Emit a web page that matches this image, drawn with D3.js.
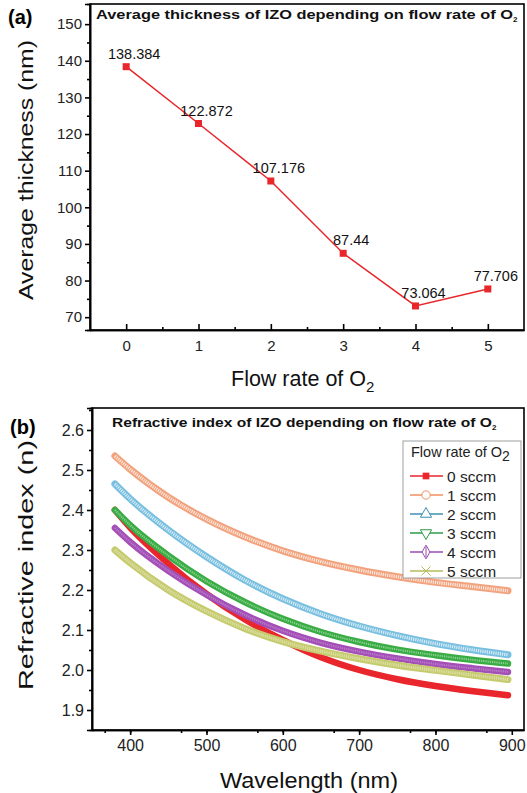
<!DOCTYPE html>
<html><head><meta charset="utf-8">
<script src="https://cdn.jsdelivr.net/npm/d3@7"></script>
<style>
body{margin:0;background:#fff;}
svg{display:block;font-family:"Liberation Sans",Arial,sans-serif;}
</style></head>
<body>
<svg id="chart" width="527" height="793"></svg>
<script>
// ---------- Data: panel (a) ----------
const flowRates = [0, 1, 2, 3, 4, 5];
const thickness = [138.384, 122.872, 107.176, 87.44, 73.064, 77.706];
const thicknessLabels = ["138.384", "122.872", "107.176", "87.44", "73.064", "77.706"];
const aYTicks = [70, 80, 90, 100, 110, 120, 130, 140, 150];
const aXTicks = [0, 1, 2, 3, 4, 5];

// ---------- Data: panel (b) ----------
const wavelengths = [380, 400, 450, 500, 550, 600, 650, 700, 750, 800, 850, 895];
const n0sccm = [2.400, 2.356, 2.266, 2.190, 2.127, 2.075, 2.032, 2.000, 1.977, 1.960, 1.947, 1.937];
const n1sccm = [2.535, 2.502, 2.432, 2.377, 2.333, 2.298, 2.271, 2.250, 2.233, 2.219, 2.208, 2.198];
const n2sccm = [2.465, 2.428, 2.350, 2.283, 2.225, 2.178, 2.140, 2.110, 2.086, 2.066, 2.050, 2.038];
const n3sccm = [2.400, 2.362, 2.286, 2.222, 2.170, 2.128, 2.095, 2.070, 2.051, 2.037, 2.025, 2.016];
const n4sccm = [2.355, 2.320, 2.248, 2.188, 2.138, 2.098, 2.068, 2.046, 2.029, 2.015, 2.004, 1.995];
const n5sccm = [2.300, 2.268, 2.200, 2.147, 2.104, 2.071, 2.047, 2.028, 2.012, 1.999, 1.987, 1.976];
const seriesNames = ["0 sccm", "1 sccm", "2 sccm", "3 sccm", "4 sccm", "5 sccm"];
const bYTicks = [1.9, 2.0, 2.1, 2.2, 2.3, 2.4, 2.5, 2.6];
const bXTicks = [400, 500, 600, 700, 800, 900];

const FONT = '"Liberation Sans",Arial,sans-serif';
const svg = d3.select("#chart");

// ================= Panel (a) =================
const aL = 90, aR = 524, aT = 4, aB = 330;
const ax = d3.scaleLinear().domain([-0.5, 5.5]).range([aL, aR]);
const ay = d3.scaleLinear().domain([66.5, 155.5]).range([aB, aT]);

const gA = svg.append("g");
gA.append("rect").attr("x", aL).attr("y", aT).attr("width", aR - aL).attr("height", aB - aT)
  .attr("fill", "none").attr("stroke", "#000").attr("stroke-width", 1.6);

const ayAxis = d3.axisLeft(ay).tickValues(aYTicks).tickSize(5).tickPadding(3).tickFormat(d3.format("d"));
gA.append("g").attr("class", "ta").attr("transform", `translate(${aL},0)`).call(ayAxis);
const ayMinor = d3.axisLeft(ay).tickValues(d3.range(75, 155, 10)).tickSize(3).tickFormat("");
gA.append("g").attr("transform", `translate(${aL},0)`).call(ayMinor);
const axAxis = d3.axisBottom(ax).tickValues(aXTicks).tickSizeInner(-6).tickSizeOuter(0).tickPadding(10).tickFormat(d3.format("d"));
gA.append("g").attr("class", "ta").attr("transform", `translate(0,${aB})`).call(axAxis);
const axMinor = d3.axisBottom(ax).tickValues([0.5, 1.5, 2.5, 3.5, 4.5]).tickSizeInner(-3).tickSizeOuter(0).tickFormat("");
gA.append("g").attr("transform", `translate(0,${aB})`).call(axMinor);

const lineA = d3.line().x((d, i) => ax(flowRates[i])).y(d => ay(d));
gA.append("path").datum(thickness).attr("d", lineA)
  .attr("fill", "none").attr("stroke", "#e8262c").attr("stroke-width", 1.5);
gA.selectAll("rect.pt").data(thickness).join("rect").attr("class", "pt")
  .attr("x", (d, i) => ax(flowRates[i]) - 3.5).attr("y", d => ay(d) - 3.5)
  .attr("width", 7).attr("height", 7).attr("fill", "#e8262c");
gA.selectAll("text.lbl").data(thickness).join("text").attr("class", "lbl")
  .attr("x", (d, i) => ax(flowRates[i]) + 8).attr("y", d => ay(d) - 8)
  .attr("text-anchor", "middle").attr("font-size", 14.5).attr("fill", "#111")
  .text((d, i) => thicknessLabels[i]);

const tA = gA.append("text").attr("x", 96).attr("y", 19).attr("font-size", 13.5)
  .attr("font-weight", "bold").attr("fill", "#111");
tA.append("tspan").attr("textLength", 417).attr("lengthAdjust", "spacingAndGlyphs")
  .text("Average thickness of IZO depending on flow rate of O");
tA.append("tspan").attr("font-size", 8).attr("dy", 3).text("2");

svg.append("text").attr("x", 8).attr("y", 24).attr("font-size", 20).attr("font-weight", "bold").text("(a)");
svg.append("text").attr("transform", "translate(33,170) rotate(-90)").attr("text-anchor", "middle")
  .attr("font-size", 21).attr("textLength", 260).attr("lengthAdjust", "spacingAndGlyphs")
  .attr("fill", "#111").text("Average thickness (nm)");
const xlA = svg.append("text").attr("x", 231).attr("y", 386)
  .attr("font-size", 21.5).attr("fill", "#111");
xlA.append("tspan").text("Flow rate of O");
xlA.append("tspan").attr("font-size", 15).attr("dy", 6).text("2");

// ================= Panel (b) =================
const bL = 92, bR = 524, bT = 408, bB = 730;
const bx = d3.scaleLinear().domain([350, 916]).range([bL, bR]);
const by = d3.scaleLinear().domain([1.85, 2.655]).range([bB, bT]);
const gB = svg.append("g");

gB.append("rect").attr("x", bL).attr("y", bT).attr("width", bR - bL).attr("height", bB - bT)
  .attr("fill", "none").attr("stroke", "#000").attr("stroke-width", 1.6);

const byAxis = d3.axisLeft(by).tickValues(bYTicks).tickSize(5).tickPadding(3).tickFormat(d3.format(".1f"));
gB.append("g").attr("class", "tb").attr("transform", `translate(${bL},0)`).call(byAxis);
const byMinor = d3.axisLeft(by).tickValues([1.95, 2.05, 2.15, 2.25, 2.35, 2.45, 2.55, 2.65]).tickSize(3).tickFormat("");
gB.append("g").attr("transform", `translate(${bL},0)`).call(byMinor);
const bxAxis = d3.axisBottom(bx).tickValues(bXTicks).tickSizeInner(5).tickSizeOuter(0).tickPadding(5);
gB.append("g").attr("class", "tb").attr("transform", `translate(0,${bB})`).call(bxAxis);
const bxMinorVals = [];
for (let k = 1; k < 17; k++) { if (k % 3 !== 0) bxMinorVals.push(Math.round((400 + (k - 2) * 100 / 3) * 100) / 100); }
const bxMinor = d3.axisBottom(bx).tickValues(bxMinorVals.filter(v => v > 350 && v < 916)).tickSizeInner(3).tickSizeOuter(0).tickFormat("");
gB.append("g").attr("transform", `translate(0,${bB})`).call(bxMinor);

svg.selectAll(".domain").attr("stroke", "#000").attr("stroke-width", 1.6);
svg.selectAll(".tick line").attr("stroke", "#000").attr("stroke-width", 1.6);
svg.selectAll(".tick text").attr("font-family", FONT).attr("fill", "#222");
svg.selectAll(".ta .tick text").attr("font-size", 15);
svg.selectAll(".tb .tick text").attr("font-size", 16);

const seriesData = [n0sccm, n1sccm, n2sccm, n3sccm, n4sccm, n5sccm];
const styles = [
  { c: "#e8262c", w: 6.5, inner: null },
  { c: "#f2a27c", w: 7, inner: "#fff", iw: 3.2, io: 0.75 },
  { c: "#78bfe0", w: 7, inner: "#fff", iw: 3.2, io: 0.7 },
  { c: "#3aac44", w: 6.5, inner: "#9fdca6", iw: 2, io: 0.8 },
  { c: "#a44fb8", w: 6.5, inner: "#c79ad2", iw: 2, io: 0.6 },
  { c: "#c6cb70", w: 7, inner: "#e6e8b8", iw: 3, io: 0.7 }
];
const lineB = d3.line().x((d, i) => bx(wavelengths[i])).y(d => by(d)).curve(d3.curveMonotoneX);
seriesData.forEach((s, k) => {
  const st = styles[k];
  gB.append("path").datum(s).attr("d", lineB).attr("fill", "none")
    .attr("stroke", st.c).attr("stroke-width", st.w).attr("stroke-linecap", "round");
  if (st.inner) {
    gB.append("path").datum(s).attr("d", lineB).attr("fill", "none")
      .attr("stroke", st.inner).attr("stroke-width", st.iw).attr("stroke-opacity", st.io)
      .attr("stroke-dasharray", "1.2 1");
  }
});

const tB = gB.append("text").attr("x", 112).attr("y", 427).attr("font-size", 12.8)
  .attr("font-weight", "bold").attr("fill", "#111");
tB.append("tspan").attr("textLength", 380).attr("lengthAdjust", "spacingAndGlyphs")
  .text("Refractive index of IZO depending on flow rate of O");
tB.append("tspan").attr("font-size", 8).attr("dy", 3).text("2");

const lg = gB.append("g");
lg.append("rect").attr("x", 403).attr("y", 441).attr("width", 118).attr("height", 137)
  .attr("fill", "#fff").attr("stroke", "#888").attr("stroke-width", 0.8);
const lgT = lg.append("text").attr("x", 411).attr("y", 457).attr("font-size", 14.5).attr("fill", "#222");
lgT.append("tspan").text("Flow rate of O");
lgT.append("tspan").attr("font-size", 14).attr("dy", 4).text("2");
const legendColors = ["#e8262c", "#f0915f", "#3e8fb0", "#2e9a48", "#9a4db0", "#b6bd5a"];
const symbols = [d3.symbolSquare, d3.symbolCircle, d3.symbolTriangle, d3.symbolTriangle, d3.symbolDiamond, d3.symbolX];
seriesNames.forEach((name, k) => {
  const y = 476 + k * 19;
  lg.append("line").attr("x1", 410).attr("x2", 443).attr("y1", y).attr("y2", y)
    .attr("stroke", legendColors[k]).attr("stroke-width", 1.6);
  const sym = lg.append("path").attr("d", d3.symbol(symbols[k], k === 0 ? 45 : 55)())
    .attr("transform", `translate(426,${y})` + (k === 3 ? " rotate(180)" : ""));
  if (k === 0) sym.attr("fill", legendColors[k]);
  else sym.attr("fill", "#fff").attr("stroke", legendColors[k]).attr("stroke-width", 1);
  if (k === 4) {
    lg.append("line").attr("x1", 426).attr("x2", 426).attr("y1", y - 5).attr("y2", y + 5).attr("stroke", legendColors[k]).attr("stroke-width", 1);
  }
  lg.append("text").attr("x", 447).attr("y", y + 5.5).attr("font-size", 15.5).attr("fill", "#222").text(name);
});

svg.append("text").attr("x", 10).attr("y", 434).attr("font-size", 20).attr("font-weight", "bold").text("(b)");
svg.append("text").attr("transform", "translate(33,565) rotate(-90)").attr("text-anchor", "middle")
  .attr("font-size", 21).attr("textLength", 250).attr("lengthAdjust", "spacingAndGlyphs")
  .attr("fill", "#111").text("Refractive index (n)");
svg.append("text").attr("x", 220).attr("y", 788)
  .attr("font-size", 22).attr("textLength", 178).attr("lengthAdjust", "spacingAndGlyphs")
  .attr("fill", "#111").text("Wavelength (nm)");
</script>
</body></html>
